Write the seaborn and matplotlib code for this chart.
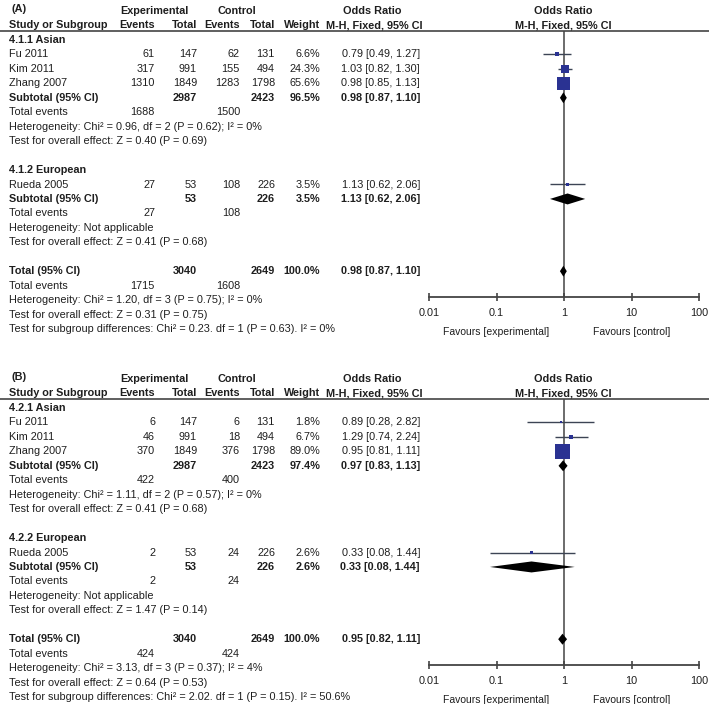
import matplotlib
matplotlib.use("Agg")
import matplotlib.pyplot as plt
import seaborn as sns

# shared study info
studies = ["Fu 2011", "Kim 2011", "Zhang 2007", "Rueda 2005"]
group_names = ["Asian", "European"]
exp_total = [147, 991, 1849, 53]
ctl_total = [131, 494, 1798, 226]
# subtotals: Asian, European, overall
sub_exp_total = [2987, 53, 3040]
sub_ctl_total = [2423, 226, 2649]

# ---- panel A ----
a_exp_events = [61, 317, 1310, 27]
a_ctl_events = [62, 155, 1283, 108]
a_weight = [6.6, 24.3, 65.6, 3.5]
a_or = [0.79, 1.03, 0.98, 1.13]
a_lo = [0.49, 0.82, 0.85, 0.62]
a_hi = [1.27, 1.30, 1.13, 2.06]
a_sub_weight = [96.5, 3.5, 100.0]
a_sub_or = [0.98, 1.13, 0.98]
a_sub_lo = [0.87, 0.62, 0.87]
a_sub_hi = [1.10, 2.06, 1.10]
a_sub_exp_events = [1688, 27, 1715]
a_sub_ctl_events = [1500, 108, 1608]
a_het = ["Chi² = 0.96, df = 2 (P = 0.62); I² = 0%", "Not applicable",
         "Chi² = 1.20, df = 3 (P = 0.75); I² = 0%"]
a_z = ["Z = 0.40 (P = 0.69)", "Z = 0.41 (P = 0.68)", "Z = 0.31 (P = 0.75)"]
a_subgroup_test = "Chi² = 0.23. df = 1 (P = 0.63). I² = 0%"

# ---- panel B ----
b_exp_events = [6, 46, 370, 2]
b_ctl_events = [6, 18, 376, 24]
b_weight = [1.8, 6.7, 89.0, 2.6]
b_or = [0.89, 1.29, 0.95, 0.33]
b_lo = [0.28, 0.74, 0.81, 0.08]
b_hi = [2.82, 2.24, 1.11, 1.44]
b_sub_weight = [97.4, 2.6, 100.0]
b_sub_or = [0.97, 0.33, 0.95]
b_sub_lo = [0.83, 0.08, 0.82]
b_sub_hi = [1.13, 1.44, 1.11]
b_sub_exp_events = [422, 2, 424]
b_sub_ctl_events = [400, 24, 424]
b_het = ["Chi² = 1.11, df = 2 (P = 0.57); I² = 0%", "Not applicable",
         "Chi² = 3.13, df = 3 (P = 0.37); I² = 4%"]
b_z = ["Z = 0.41 (P = 0.68)", "Z = 1.47 (P = 0.14)", "Z = 0.64 (P = 0.53)"]
b_subgroup_test = "Chi² = 2.02. df = 1 (P = 0.15). I² = 50.6%"

ticks = [0.01, 0.1, 1, 10, 100]
tick_labels = ["0.01", "0.1", "1", "10", "100"]

sns.set_theme(style="white")
plt.rcParams['font.family'] = ['Liberation Sans', 'DejaVu Sans']

W, H = 709, 704
FS = 7.8
TXT = '#1e1e1e'
LINE = '#444444'
BLUE = '#2a3292'
ROW0, PITCH = 40, 14.45

fig = plt.figure(figsize=(W / 100, H / 100), dpi=100)
tax = fig.add_axes([0, 0, 1, 1])
tax.set_xlim(0, W)
tax.set_ylim(H, 0)
tax.axis('off')


def panel(off, letter, code, exp_ev, ctl_ev, weight, orr, lo, hi,
          s_w, s_or, s_lo, s_hi, s_exp_ev, s_ctl_ev, het, zs, sub_test):
    def put(x, row, s, ha='left', bold=False, y=None):
        yy = off + ROW0 + PITCH * row if y is None else off + y
        tax.text(x, yy, str(s), ha=ha, va='center', fontsize=FS, color=TXT,
                 fontweight='bold' if bold else 'normal')

    # headers
    put(12, 0, f"({letter})", bold=True, y=9)
    put(154, 0, "Experimental", ha='center', bold=True, y=11)
    put(237, 0, "Control", ha='center', bold=True, y=11)
    put(372, 0, "Odds Ratio", ha='center', bold=True, y=11)
    put(563, 0, "Odds Ratio", ha='center', bold=True, y=11)
    put(9, 0, "Study or Subgroup", bold=True, y=25)
    put(155, 0, "Events", ha='right', bold=True, y=25)
    put(197, 0, "Total", ha='right', bold=True, y=25)
    put(240, 0, "Events", ha='right', bold=True, y=25)
    put(275, 0, "Total", ha='right', bold=True, y=25)
    put(320, 0, "Weight", ha='right', bold=True, y=25)
    put(374, 0, "M-H, Fixed, 95% CI", ha='center', bold=True, y=25)
    put(563, 0, "M-H, Fixed, 95% CI", ha='center', bold=True, y=25)
    tax.hlines(off + 30.7, 0, W, color=LINE, lw=1.2)

    def summary(row, g, label):
        put(9, row, label, bold=True)
        put(197, row, sub_exp_total[g], 'right', True)
        put(275, row, sub_ctl_total[g], 'right', True)
        put(320, row, f"{s_w[g]:.1f}%", 'right', True)
        put(420, row, f"{s_or[g]:.2f} [{s_lo[g]:.2f}, {s_hi[g]:.2f}]", 'right', True)
        put(9, row + 1, "Total events")
        put(155, row + 1, s_exp_ev[g], 'right')
        put(240, row + 1, s_ctl_ev[g], 'right')
        put(9, row + 2, "Heterogeneity: " + het[g])
        put(9, row + 3, "Test for overall effect: " + zs[g])

    groups = [[0, 1, 2], [3]]
    study_rows, sub_rows = [], []
    r = 0
    for g, members in enumerate(groups):
        put(9, r, f"{code}.{g + 1} {group_names[g]}", bold=True)
        r += 1
        for k in members:
            put(9, r, studies[k])
            put(155, r, exp_ev[k], 'right')
            put(197, r, exp_total[k], 'right')
            put(240, r, ctl_ev[k], 'right')
            put(275, r, ctl_total[k], 'right')
            put(320, r, f"{weight[k]:.1f}%", 'right')
            put(420, r, f"{orr[k]:.2f} [{lo[k]:.2f}, {hi[k]:.2f}]", 'right')
            study_rows.append(r)
            r += 1
        summary(r, g, "Subtotal (95% CI)")
        sub_rows.append(r)
        r += 5
    summary(r, 2, "Total (95% CI)")
    sub_rows.append(r)
    put(9, r + 4, "Test for subgroup differences: " + sub_test)

    # forest part
    top, bot = off + 30.7, off + 297
    fax = fig.add_axes([429 / W, 1 - bot / H, 270 / W, (bot - top) / H])
    fax.set_facecolor('none')
    fax.set_xscale('log')
    fax.hlines(study_rows, lo, hi, color='#3c4454', lw=1.0, zorder=2)
    sns.scatterplot(x=orr, y=study_rows, size=weight, sizes=(0, 120),
                    size_norm=(0, 100), marker='s', color=BLUE, linewidth=0,
                    legend=False, ax=fax, zorder=3)
    for row, e, l, h in zip(sub_rows, s_or, s_lo, s_hi):
        fax.fill([l, e, h, e], [row, row - 0.38, row, row + 0.38],
                 color='black', lw=0, zorder=3)
    fax.axvline(1, color=LINE, lw=1.1, zorder=1)
    fax.set_xlim(0.01, 100)
    fax.set_ylim((bot - off - ROW0) / PITCH, (top - off - ROW0) / PITCH)
    for s in ['left', 'right', 'top']:
        fax.spines[s].set_visible(False)
    fax.spines['bottom'].set_color(LINE)
    fax.spines['bottom'].set_linewidth(1.3)
    fax.set_yticks([])
    fax.set_xticks(ticks)
    fax.set_xticklabels(tick_labels)
    fax.minorticks_off()
    fax.tick_params(axis='x', bottom=True, direction='inout', length=6,
                    width=1.2, pad=5, labelsize=FS, colors=LINE, labelcolor=TXT)
    fax.set_xlabel('')
    fax.set_ylabel('')
    for x, lab in [(0.1, "Favours [experimental]"), (10, "Favours [control]")]:
        fax.annotate(lab, xy=(x, 0), xycoords=('data', 'axes fraction'),
                     xytext=(0, -25), textcoords='offset points', ha='center',
                     va='center', fontsize=FS - 0.3, color=TXT)


panel(0, "A", "4.1", a_exp_events, a_ctl_events, a_weight, a_or, a_lo, a_hi,
      a_sub_weight, a_sub_or, a_sub_lo, a_sub_hi, a_sub_exp_events,
      a_sub_ctl_events, a_het, a_z, a_subgroup_test)
panel(368, "B", "4.2", b_exp_events, b_ctl_events, b_weight, b_or, b_lo, b_hi,
      b_sub_weight, b_sub_or, b_sub_lo, b_sub_hi, b_sub_exp_events,
      b_sub_ctl_events, b_het, b_z, b_subgroup_test)

plt.savefig('out.png', dpi=100)
